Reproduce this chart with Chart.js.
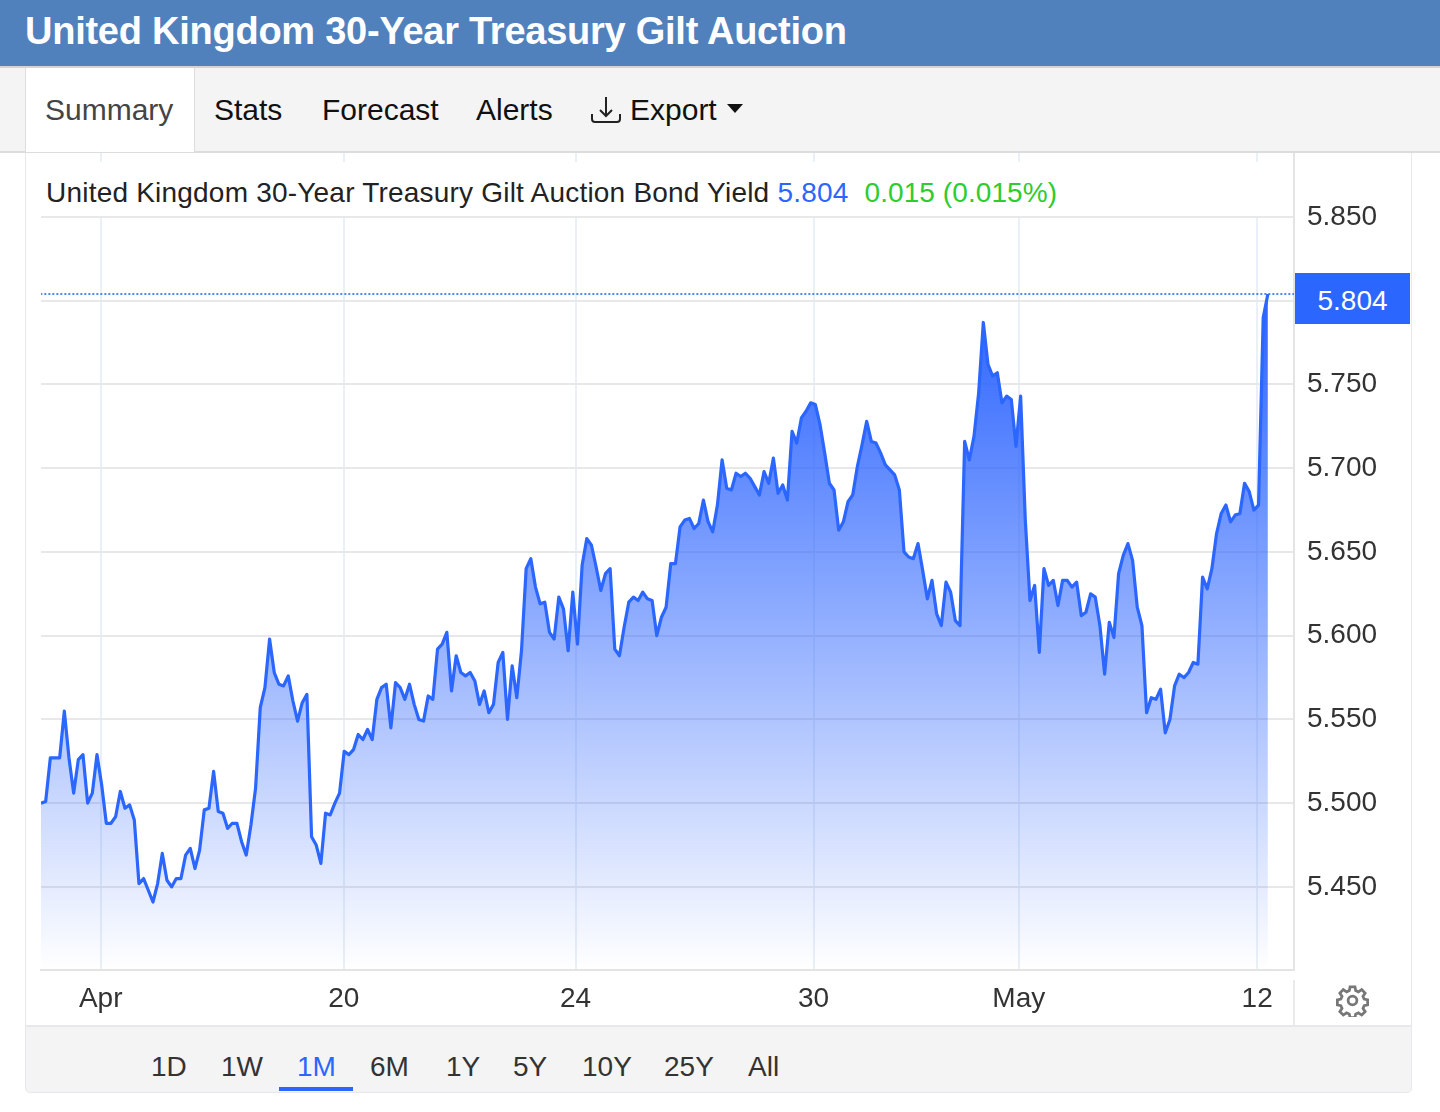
<!DOCTYPE html>
<html>
<head>
<meta charset="utf-8">
<title>United Kingdom 30-Year Treasury Gilt Auction</title>
<script src="https://cdn.jsdelivr.net/npm/chart.js@4"></script>
<style>
    html, body { margin: 0; padding: 0; background: #fff; }
    body { width: 1440px; height: 1112px; position: relative; overflow: hidden; font-family: "Liberation Sans", Arial, sans-serif; color: #222; }
    .abs { position: absolute; white-space: nowrap; }
    #chartBox { left: 25px; top: 122px; width: 1386px; height: 904px; }
    #header { left: 0; top: 0; width: 1440px; height: 66px; background: #5081bd; border-bottom: 2px solid #d4d4d4; }
    #heading { left: 25px; top: 9px; font-size: 38px; line-height: 44px; font-weight: bold; color: #fff; letter-spacing: -0.25px; }
    #tabbar { left: 0; top: 68px; width: 1440px; height: 83px; background: #f4f4f4; border-bottom: 2px solid #dcdcdc; }
    #summary { left: 25px; top: 68px; width: 168px; height: 84px; background: #fff; border-left: 1px solid #ddd; border-right: 1px solid #ddd; }
    .tab { top: 92px; font-size: 30px; line-height: 36px; color: #111; }
    #panel { left: 25px; top: 153px; width: 1385px; height: 872px; border-left: 1px solid #e8e8ec; border-right: 1px solid #e8e8ec; }
    #titleBar { left: 41px; top: 162px; width: 1247px; height: 54px; padding-left: 5px; background: #fff; font-size: 28px; line-height: 62px; color: #222; letter-spacing: 0.21px; }
    #lastBox { left: 1295px; top: 273px; width: 115px; height: 51px; background: #2b66ff; color: #fff; font-size: 28px; line-height: 55px; text-align: center; }
    #sep { left: 1293px; top: 980px; width: 2px; height: 45px; background: #eaeaea; }
    #rangebar { left: 25px; top: 1025px; width: 1385px; height: 65px; background: #f4f4f4; border: 1px solid #e8e8ec; border-top-width: 2px; border-radius: 0 0 5px 5px; }
    .range { top: 1050px; font-size: 28px; line-height: 34px; color: #333; }
    #underline { left: 279px; top: 1087px; width: 74px; height: 4px; background: #2b66ff; }
</style>
</head>
<body>
<div class="abs" id="panel"></div>
<div class="abs" id="chartBox"><canvas id="yieldChart" width="1386" height="904"></canvas></div>
<div class="abs" id="header"></div>
<div class="abs" id="heading">United Kingdom 30-Year Treasury Gilt Auction</div>
<div class="abs" id="tabbar"></div>
<div class="abs" id="summary"></div>
<div class="abs tab" style="left:45px;color:#444">Summary</div>
<div class="abs tab" style="left:214px">Stats</div>
<div class="abs tab" style="left:322px">Forecast</div>
<div class="abs tab" style="left:476px">Alerts</div>
<svg class="abs" style="left:590px;top:95px" width="34" height="30" viewBox="0 0 34 30" fill="none" stroke="#222" stroke-width="2">
    <path d="M16 2V21M10 15l6 6 6-6M2 19v5q0 3 3 3h22q3 0 3-3v-5"/>
</svg>
<div class="abs tab" style="left:630px">Export</div>
<svg class="abs" style="left:726px;top:104px" width="18" height="10"><path d="M1 0H17L9 9Z" fill="#111"/></svg>

<div class="abs" id="titleBar">United Kingdom 30-Year Treasury Gilt Auction Bond Yield<span style="color:#2b66ff;margin-left:8px">5.804</span><span style="color:#2ecc2e;margin-left:16px;letter-spacing:0.08px">0.015 (0.015%)</span></div>
<div class="abs" id="lastBox">5.804</div>
<div class="abs" id="sep"></div>
<svg class="abs" style="left:1336px;top:984px" width="33" height="33" viewBox="0 0 24 24" fill="none" stroke="#777" stroke-width="2">
    <circle cx="12" cy="12" r="3.2"/>
    <path d="M10.2 2h3.6l.5 2.8 2 .9 2.4-1.6 2.5 2.5-1.6 2.4.9 2 2.5.6v3.6l-2.5.5-.9 2 1.6 2.4-2.5 2.5-2.4-1.6-2 .9-.5 2.6h-3.6l-.5-2.6-2-.9-2.4 1.6-2.5-2.5 1.6-2.4-.9-2-2.5-.5v-3.6l2.5-.6.9-2-1.6-2.4 2.5-2.5 2.4 1.6 2-.9z"/>
</svg>
<div class="abs" id="rangebar"></div>
<div class="abs range" style="left:151px">1D</div>
<div class="abs range" style="left:221px">1W</div>
<div class="abs range" style="left:297px;color:#2b66ff">1M</div>
<div class="abs range" style="left:370px">6M</div>
<div class="abs range" style="left:446px">1Y</div>
<div class="abs range" style="left:513px">5Y</div>
<div class="abs range" style="left:582px">10Y</div>
<div class="abs range" style="left:664px">25Y</div>
<div class="abs range" style="left:748px">All</div>
<div class="abs" id="underline"></div>

<script>
    const aprilValues = [
        5.500, 5.501, 5.527, 5.527, 5.527, 5.555, 5.527, 5.506, 5.526, 5.529, 5.500, 5.506, 5.529, 5.511,
        5.488, 5.488, 5.492, 5.507, 5.497, 5.499, 5.490, 5.452, 5.455, 5.448, 5.441, 5.452, 5.470, 5.454,
        5.450, 5.455, 5.455, 5.469, 5.473, 5.461, 5.472, 5.496, 5.497, 5.519, 5.495, 5.494, 5.485, 5.488,
        5.488, 5.477, 5.469, 5.487, 5.509, 5.557, 5.569, 5.598, 5.578, 5.571, 5.570, 5.576, 5.561, 5.549,
        5.560, 5.565, 5.480, 5.475, 5.464, 5.494, 5.493, 5.500, 5.506, 5.531, 5.529, 5.532, 5.541
    ];
    const midValues = [
        5.538, 5.544, 5.538, 5.562, 5.569, 5.571, 5.545, 5.572, 5.569, 5.562, 5.571, 5.559, 5.550, 5.549,
        5.564, 5.562, 5.592, 5.595, 5.602, 5.567, 5.588, 5.578, 5.576, 5.578, 5.573, 5.559, 5.567, 5.554,
        5.559, 5.584, 5.590, 5.550, 5.582, 5.563, 5.591, 5.640, 5.646, 5.629, 5.619, 5.620, 5.602, 5.598,
        5.623, 5.616, 5.591, 5.626, 5.595, 5.642, 5.658, 5.654, 5.641, 5.627, 5.637, 5.640, 5.592, 5.588,
        5.605, 5.620, 5.623, 5.621, 5.626, 5.622, 5.621, 5.600, 5.611, 5.617, 5.643
    ];
    const lateValues = [
        5.643, 5.665, 5.669, 5.670, 5.664, 5.667, 5.681, 5.668, 5.662, 5.678, 5.705, 5.688, 5.687, 5.697,
        5.695, 5.697, 5.694, 5.689, 5.684, 5.698, 5.691, 5.706, 5.685, 5.690, 5.681, 5.722, 5.715, 5.730,
        5.734, 5.739, 5.738, 5.726, 5.709, 5.691, 5.687, 5.663, 5.668, 5.680, 5.684, 5.701, 5.714, 5.728,
        5.716, 5.715, 5.709, 5.702, 5.699, 5.696, 5.687, 5.650, 5.647, 5.646, 5.655, 5.639, 5.622, 5.633,
        5.613, 5.606, 5.632, 5.626, 5.609, 5.606, 5.716, 5.705
    ];
    const mayValues = [
        5.719, 5.745, 5.787, 5.762, 5.755, 5.757, 5.739, 5.743, 5.741, 5.713, 5.743, 5.669, 5.621, 5.630,
        5.590, 5.640, 5.630, 5.633, 5.618, 5.633, 5.633, 5.629, 5.632, 5.612, 5.614, 5.625, 5.623, 5.606,
        5.577, 5.608, 5.599, 5.637, 5.648, 5.655, 5.645, 5.617, 5.606, 5.554, 5.563, 5.562, 5.568, 5.542,
        5.550, 5.570, 5.577, 5.575, 5.578, 5.584, 5.583, 5.635, 5.628, 5.640, 5.661, 5.673, 5.678, 5.668,
        5.672, 5.673, 5.691, 5.686, 5.675, 5.678, 5.790, 5.804
    ];
    const yieldValues = [...aprilValues, ...midValues, ...lateValues, ...mayValues];
    const lastValue = 5.804;

    const xTickLabels = ["Apr", "20", "24", "30", "May", "12"];
    const xTickPositions = [12.8, 64.9, 114.6, 165.6, 209.6, 260.7];
    const yTickValues = [5.45, 5.5, 5.55, 5.6, 5.65, 5.7, 5.75, 5.8, 5.85];

    const ctx = document.getElementById("yieldChart").getContext("2d");

    // fill fades from full blue at the last value down to nothing at the axis
    function areaGradient(context) {
        const { chart } = context;
        if (!chart.chartArea) return "rgba(41, 98, 255, 0.4)";
        const top = chart.scales.y.getPixelForValue(lastValue);
        const gradient = chart.ctx.createLinearGradient(0, top, 0, chart.chartArea.bottom);
        gradient.addColorStop(0, "rgba(41, 98, 255, 1)");
        gradient.addColorStop(1, "rgba(41, 98, 255, 0)");
        return gradient;
    }

    new Chart(ctx, {
        type: "line",
        data: {
            datasets: [
                {
                    label: "Bond Yield",
                    data: yieldValues.map((v, i) => ({ x: i, y: v })),
                    borderColor: "#2b66ff",
                    backgroundColor: areaGradient,
                    borderWidth: 3.2,
                    borderJoinStyle: "round",
                    pointRadius: 0,
                    tension: 0,
                    fill: "start",
                },
                {
                    label: "Last",
                    data: [{ x: -1, y: lastValue }, { x: 269, y: lastValue }],
                    borderColor: "#2b66ff",
                    borderWidth: 1.6,
                    borderDash: [2, 2],
                    pointRadius: 0,
                    fill: false,
                },
            ],
        },
        options: {
            responsive: false,
            animation: false,
            layout: { padding: { left: 16, right: 0, top: 0, bottom: 0 } },
            plugins: { legend: { display: false }, tooltip: { enabled: false }, title: { display: false } },
            scales: {
                x: {
                    type: "linear",
                    min: 0,
                    max: 268.6,
                    afterBuildTicks: (axis) => { axis.ticks = xTickPositions.map((v) => ({ value: v })); },
                    afterFit: (axis) => { axis.height = 56; },
                    grid: { color: "#eaf0f7", lineWidth: 2, drawTicks: false },
                    border: { color: "#e4e4e4", width: 2 },
                    ticks: {
                        autoSkip: false,
                        maxRotation: 0,
                        padding: 12,
                        color: "#333",
                        font: { family: "Liberation Sans", size: 28 },
                        callback: (value) => xTickLabels[xTickPositions.indexOf(value)],
                    },
                },
                y: {
                    position: "right",
                    min: 5.4004,
                    max: 5.8889,
                    afterBuildTicks: (axis) => { axis.ticks = yTickValues.map((v) => ({ value: v })); },
                    afterFit: (axis) => { axis.width = 117; },
                    grid: { color: "#e8e8e8", lineWidth: 2, drawTicks: false },
                    border: { color: "#e4e4e4", width: 2 },
                    ticks: {
                        padding: 13,
                        color: "#333",
                        font: { family: "Liberation Sans", size: 28 },
                        // 5.800 sits under the last-value box
                        callback: (value) => (value === 5.8 ? "" : value.toFixed(3)),
                    },
                },
            },
        },
    });
</script>
</body>
</html>
